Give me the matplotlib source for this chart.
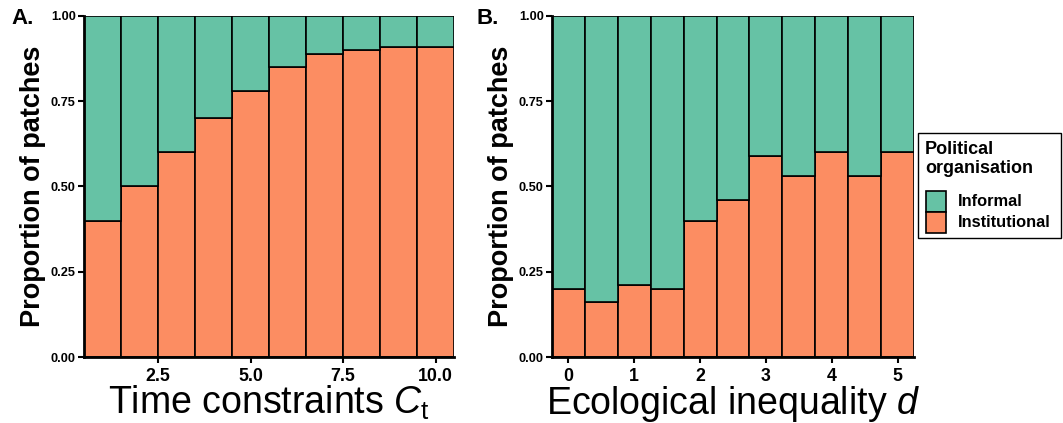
import matplotlib
matplotlib.use("Agg")
import matplotlib.pyplot as plt
from matplotlib.patches import Rectangle
import numpy as np

plt.rcParams['font.family'] = ['Liberation Sans', 'DejaVu Sans']
plt.rcParams['mathtext.fontset'] = 'custom'
plt.rcParams['mathtext.rm'] = 'Liberation Sans'
plt.rcParams['mathtext.it'] = 'Liberation Sans:italic'

# Panel A: proportion of institutional patches by time constraints
time_constraints = [1, 2, 3, 4, 5, 6, 7, 8, 9, 10]
institutional_a = [0.40, 0.50, 0.60, 0.70, 0.78, 0.85, 0.89, 0.90, 0.91, 0.91]

# Panel B: proportion of institutional patches by ecological inequality
ecological_inequality = [0.0, 0.5, 1.0, 1.5, 2.0, 2.5, 3.0, 3.5, 4.0, 4.5, 5.0]
institutional_b = [0.20, 0.16, 0.21, 0.20, 0.40, 0.46, 0.59, 0.53, 0.60, 0.53, 0.60]

y_ticks = [0.0, 0.25, 0.5, 0.75, 1.0]
y_tick_labels = ["0.00", "0.25", "0.50", "0.75", "1.00"]
a_ticks = [2.5, 5.0, 7.5, 10.0]
a_tick_labels = ["2.5", "5.0", "7.5", "10.0"]
b_ticks = [0, 1, 2, 3, 4, 5]
b_tick_labels = ["0", "1", "2", "3", "4", "5"]

legend_title = "Political\norganisation"
legend_labels = ["Informal", "Institutional"]

col_informal = "#66C2A5"
col_institutional = "#FC8D62"

W, H = 1063, 423
fig = plt.figure(figsize=(W / 100, H / 100), dpi=100)


def px_axes(x0, x1, y0, y1):
    return fig.add_axes([x0 / W, 1 - y1 / H, (x1 - x0) / W, (y1 - y0) / H])


def fx(x):
    return x / W


def fy(y):
    return 1 - y / H


def draw_panel(ax, x, inst, width, xlim, ticks, tick_labels, xlabel):
    x = np.asarray(x, dtype=float)
    inst = np.asarray(inst, dtype=float)
    ax.bar(x, inst, width=width, color=col_institutional, edgecolor="black", linewidth=1.2)
    ax.bar(x, 1 - inst, bottom=inst, width=width, color=col_informal, edgecolor="black", linewidth=1.2)
    ax.set_xlim(*xlim)
    ax.set_ylim(0, 1)
    ax.set_yticks(y_ticks)
    ax.set_yticklabels(y_tick_labels, fontsize=9.2, fontweight="bold")
    ax.set_xticks(ticks)
    ax.set_xticklabels(tick_labels, fontsize=12.8, fontweight="bold")
    for s in ("top", "right"):
        ax.spines[s].set_visible(False)
    for s in ("left", "bottom"):
        ax.spines[s].set_linewidth(2.0)
    ax.tick_params(axis="both", length=4, width=1.5, color="black")
    ax.tick_params(axis="y", pad=2)
    ax.tick_params(axis="x", pad=4)
    ax.set_ylabel("Proportion of patches", fontsize=19.5, fontweight="bold", labelpad=3)
    ax.set_xlabel(xlabel, fontsize=27, labelpad=-1)


ax_a = px_axes(84, 454, 16, 357)
draw_panel(ax_a, time_constraints, institutional_a, 1.0, (0.5, 10.5),
           a_ticks, a_tick_labels, r"Time constraints $C_\mathrm{t}$")

ax_b = px_axes(552, 914, 16, 357)
draw_panel(ax_b, ecological_inequality, institutional_b, 0.5, (-0.25, 5.25),
           b_ticks, b_tick_labels, r"Ecological inequality $d$")

fig.text(fx(11), fy(8), "A.", fontsize=16, fontweight="bold", va="top", ha="left")
fig.text(fx(477), fy(8), "B.", fontsize=16, fontweight="bold", va="top", ha="left")

# Legend drawn from figure-level artists
fig.patches.append(Rectangle((fx(918), fy(238)), fx(1061) - fx(918), fy(133) - fy(238),
                             transform=fig.transFigure, facecolor="white",
                             edgecolor="black", linewidth=1.0))
fig.text(fx(925), fy(141), legend_title, fontsize=13, fontweight="bold",
         va="top", ha="left", linespacing=1.12)
key_colors = [col_informal, col_institutional]
key_top = 191
key_h = 21
for i, (lab, col) in enumerate(zip(legend_labels, key_colors)):
    y0 = key_top + i * key_h
    fig.patches.append(Rectangle((fx(926), fy(y0 + key_h)), fx(946) - fx(926), key_h / H,
                                 transform=fig.transFigure, facecolor=col,
                                 edgecolor="black", linewidth=1.2))
    fig.text(fx(958), fy(y0 + key_h / 2), lab, fontsize=11.8, fontweight="bold",
             va="center", ha="left")

fig.savefig("out.png", dpi=100)
